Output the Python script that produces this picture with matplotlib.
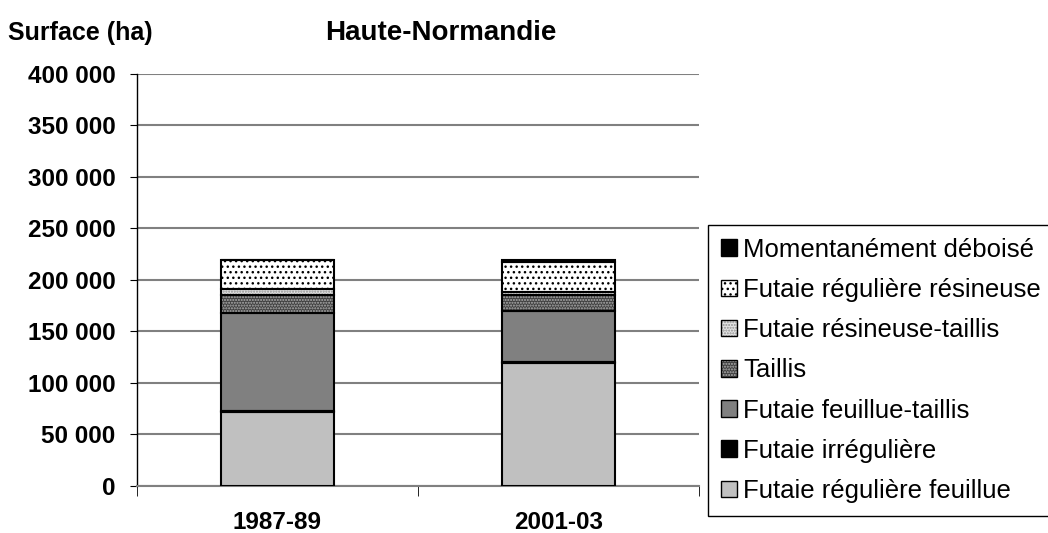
import numpy as np
import matplotlib
matplotlib.use("Agg")
import matplotlib.pyplot as plt
from matplotlib.patches import Patch
from matplotlib.ticker import FuncFormatter

# données (ha)
periodes = ["1987-89", "2001-03"]
categories = [
    "Futaie régulière feuillue",
    "Futaie irrégulière",
    "Futaie feuillue-taillis",
    "Taillis",
    "Futaie résineuse-taillis",
    "Futaie régulière résineuse",
    "Momentanément déboisé",
]
reg_feuillue = [72000, 119000]
irreguliere = [1000, 1000]
feuillue_taillis = [95000, 50000]
taillis = [17000, 15000]
resineuse_taillis = [6500, 3500]
reg_resineuse = [27500, 28500]
deboise = [500, 2000]
valeurs = [reg_feuillue, irreguliere, feuillue_taillis, taillis,
           resineuse_taillis, reg_resineuse, deboise]

# styles : (couleur de fond, motif, couleur du motif)
styles = [
    ("#c0c0c0", None, "black"),
    ("black", None, "black"),
    ("#808080", None, "black"),
    ("#404040", "......", "#b0b0b0"),
    ("#e4e4e4", "......", "#909090"),
    ("white", "...", "black"),
    ("black", None, "black"),
]

plt.rcParams["font.family"] = ["Liberation Sans", "DejaVu Sans"]
plt.rcParams["hatch.linewidth"] = 1.0

fig = plt.figure(figsize=(10.48, 5.33), dpi=100)
ax = fig.add_axes([0.1307, 0.0882, 0.5363, 0.773])

x = np.arange(len(periodes))
largeur = 0.4
bas = np.zeros(len(periodes))
poignees = []
for nom, vals, (fc, motif, hc) in zip(categories, valeurs, styles):
    vals = np.array(vals, dtype=float)
    ax.bar(x, vals, largeur, bottom=bas, color=fc, hatch=motif,
           edgecolor=hc, linewidth=0, zorder=3)
    ax.bar(x, vals, largeur, bottom=bas, fill=False,
           edgecolor="black", linewidth=1.5, zorder=4)
    bas += vals
    p1 = Patch(facecolor=fc, hatch=motif, edgecolor=hc, linewidth=0)
    p2 = Patch(fill=False, edgecolor="black", linewidth=1.0)
    poignees.append((p1, p2))

ax.set_xlim(-0.5, 1.5)
ax.set_ylim(0, 400000)
ax.set_yticks(np.arange(0, 400001, 50000))
ax.yaxis.set_major_formatter(FuncFormatter(lambda v, p: f"{int(v):,}".replace(",", " ")))
ax.set_xticks(x)
ax.set_xticklabels(periodes)
ax.set_xticks([-0.5, 0.5, 1.5], minor=True)
ax.tick_params(axis="x", which="major", length=0, pad=18)
ax.tick_params(axis="x", which="minor", length=7, color="black", direction="out")
ax.tick_params(axis="y", length=5, color="black", direction="out", pad=10.5)
for lab in ax.get_xticklabels() + ax.get_yticklabels():
    lab.set_fontweight("bold")
    lab.set_fontsize(17.5)

ax.grid(axis="y", color="#808080", linewidth=1.5, zorder=0)
ax.set_axisbelow(True)
for s in ["top", "right"]:
    ax.spines[s].set_visible(False)
ax.spines["left"].set_color("black")
ax.spines["left"].set_linewidth(1.0)
ax.spines["bottom"].set_color("#808080")
ax.spines["bottom"].set_linewidth(1.5)

fig.text(0.421, 0.938, "Haute-Normandie", ha="center", va="center",
         fontsize=20, fontweight="bold")
fig.text(0.008, 0.938, "Surface (ha)", ha="left", va="center",
         fontsize=18, fontweight="bold")

leg = fig.legend(poignees[::-1], categories[::-1], loc="upper left",
                 bbox_to_anchor=(0.6756, 0.578), fontsize=18.5,
                 frameon=True, fancybox=False, framealpha=1,
                 edgecolor="black", handlelength=0.62, handleheight=0.62,
                 handletextpad=0.25, labelspacing=0.63, borderpad=0.5,
                 borderaxespad=0)
leg.get_frame().set_linewidth(1.0)

fig.savefig("out.png", dpi=100)
